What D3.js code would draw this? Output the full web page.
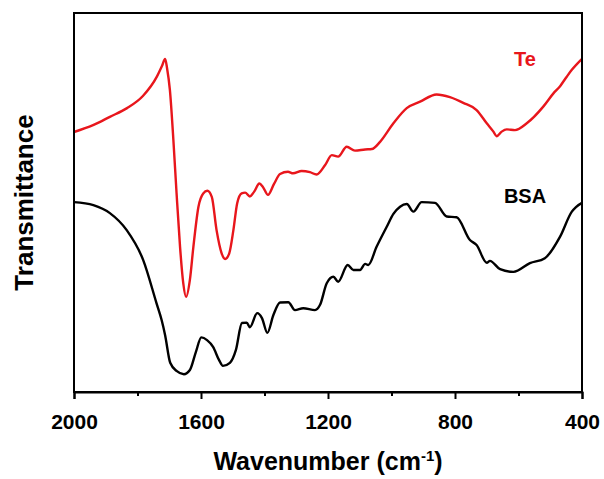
<!DOCTYPE html>
<html>
<head>
<meta charset="utf-8">
<script src="https://cdn.jsdelivr.net/npm/d3@7"></script>
<style>
  html, body { margin: 0; padding: 0; background: #fff; }
  svg text { font-family: "Liberation Sans", Arial, sans-serif; font-weight: bold; }
</style>
</head>
<body>
<div id="chart"></div>
<script>
// ===== FTIR spectra: Te vs BSA =====
// wavenumber (cm-1), transmittance (a.u., offset curves)
const teWavenumber = [2000, 1940, 1887, 1833, 1783, 1739, 1723, 1713, 1707, 1698, 1687, 1677, 1666, 1656, 1647, 1635, 1624, 1608, 1593, 1580, 1566, 1551, 1535, 1524, 1511, 1498, 1486, 1472, 1461, 1446, 1433, 1416, 1405, 1389, 1370, 1351, 1326, 1310, 1283, 1257, 1236, 1209, 1188, 1168, 1141, 1115, 1083, 1062, 1036, 994, 952, 910, 858, 816, 774, 732, 700, 679, 669, 653, 637, 611, 574, 522, 490, 469, 448, 432, 400];
const teValue = [68.6, 70.4, 72.6, 74.9, 78.1, 83.2, 86.0, 87.9, 85.5, 79.7, 66.5, 52.5, 38.3, 28.8, 25.1, 29.6, 38.3, 48.9, 52.4, 53.1, 51.5, 42.7, 36.6, 35.1, 36.6, 42.7, 49.8, 52.4, 52.6, 51.6, 52.8, 55.0, 54.1, 52.0, 54.9, 57.5, 58.1, 57.7, 58.3, 58.0, 57.4, 59.9, 62.5, 62.1, 64.7, 63.7, 64.0, 64.1, 66.0, 70.9, 74.9, 76.6, 78.5, 77.8, 76.3, 74.4, 70.9, 68.7, 67.5, 68.7, 69.3, 69.1, 70.9, 75.3, 78.8, 80.7, 83.2, 85.0, 87.9];

const bsaWavenumber = [2000, 1939, 1887, 1834, 1782, 1740, 1724, 1713, 1697, 1676, 1654, 1635, 1616, 1599, 1581, 1562, 1543, 1531, 1509, 1490, 1471, 1456, 1446, 1423, 1408, 1391, 1372, 1351, 1325, 1304, 1278, 1241, 1225, 1204, 1183, 1168, 1138, 1120, 1099, 1083, 1073, 1047, 1015, 994, 973, 952, 931, 905, 863, 826, 795, 753, 732, 700, 690, 658, 616, 564, 517, 469, 432, 419, 400];
const bsaValue = [50.1, 49.3, 47.2, 42.7, 34.8, 23.4, 19.0, 15.0, 7.7, 5.5, 4.7, 5.8, 10.6, 14.4, 13.7, 11.9, 8.4, 6.9, 7.7, 11.1, 18.2, 18.3, 17.1, 20.8, 19.5, 15.6, 20.3, 23.6, 23.7, 21.6, 22.1, 21.6, 23.0, 28.7, 30.4, 29.1, 33.5, 32.2, 32.2, 33.8, 33.5, 38.3, 43.6, 47.0, 48.9, 49.6, 47.6, 50.1, 49.9, 46.3, 46.1, 40.1, 38.8, 34.1, 34.6, 32.4, 31.7, 34.0, 35.3, 41.0, 47.6, 48.8, 49.9];

const xTicks = [2000, 1600, 1200, 800, 400];
const xMinorTicks = [1800, 1400, 1000, 600];

const width = 604, height = 479;
const margin = { top: 13, right: 22, bottom: 87, left: 74 };

const svg = d3.select('#chart')
  .append('svg')
  .attr('width', width)
  .attr('height', height);

const x = d3.scaleLinear()
  .domain([2000, 400])
  .range([margin.left, width - margin.right]);

const y = d3.scaleLinear()
  .domain([0, 100])
  .range([height - margin.bottom, margin.top]);

const line = d3.line()
  .x(d => x(d[0]))
  .y(d => y(d[1]))
  .curve(d3.curveMonotoneX);

const teData = d3.zip(teWavenumber, teValue);
const bsaData = d3.zip(bsaWavenumber, bsaValue);

// spectra
svg.append('path')
  .datum(bsaData)
  .attr('fill', 'none')
  .attr('stroke', '#000')
  .attr('stroke-width', 2.4)
  .attr('stroke-linejoin', 'round')
  .attr('d', line);

svg.append('path')
  .datum(teData)
  .attr('fill', 'none')
  .attr('stroke', '#e8161c')
  .attr('stroke-width', 2.4)
  .attr('stroke-linejoin', 'round')
  .attr('d', line);

// frame
svg.append('rect')
  .attr('x', margin.left)
  .attr('y', margin.top)
  .attr('width', width - margin.left - margin.right)
  .attr('height', height - margin.top - margin.bottom)
  .attr('fill', 'none')
  .attr('stroke', '#000')
  .attr('stroke-width', 2);

// x axis
const xAxis = svg.append('g')
  .attr('transform', `translate(0,${y(0)})`)
  .call(d3.axisBottom(x).tickValues(xTicks).tickSize(7).tickPadding(15).tickFormat(d3.format('d')));
xAxis.select('.domain').attr('stroke-width', 2);
xAxis.selectAll('.tick line').attr('stroke-width', 2);
xAxis.selectAll('.tick text')
  .attr('font-size', 21)
  .attr('fill', '#000');

svg.append('g')
  .attr('transform', `translate(0,${y(0)})`)
  .call(d3.axisBottom(x).tickValues(xMinorTicks).tickSize(4).tickFormat(''))
  .call(g => g.select('.domain').remove())
  .selectAll('.tick line').attr('stroke-width', 2);

// axis titles
const xTitle = svg.append('text')
  .attr('x', (x(2000) + x(400)) / 2)
  .attr('y', 470)
  .attr('text-anchor', 'middle')
  .attr('font-size', 25)
  .attr('fill', '#000')
  .text('Wavenumber (cm');
xTitle.append('tspan')
  .attr('dy', -9)
  .attr('font-size', 15)
  .text('-1');
xTitle.append('tspan')
  .attr('dy', 9)
  .text(')');

svg.append('text')
  .attr('transform', `translate(33,${(y(0) + y(100)) / 2}) rotate(-90)`)
  .attr('text-anchor', 'middle')
  .attr('font-size', 26)
  .attr('fill', '#000')
  .text('Transmittance');

// curve labels
svg.append('text')
  .attr('x', 525)
  .attr('y', 66)
  .attr('text-anchor', 'middle')
  .attr('font-size', 20)
  .attr('fill', '#e8161c')
  .text('Te');

svg.append('text')
  .attr('x', 525)
  .attr('y', 203)
  .attr('text-anchor', 'middle')
  .attr('font-size', 20)
  .attr('fill', '#000')
  .text('BSA');
</script>
</body>
</html>
